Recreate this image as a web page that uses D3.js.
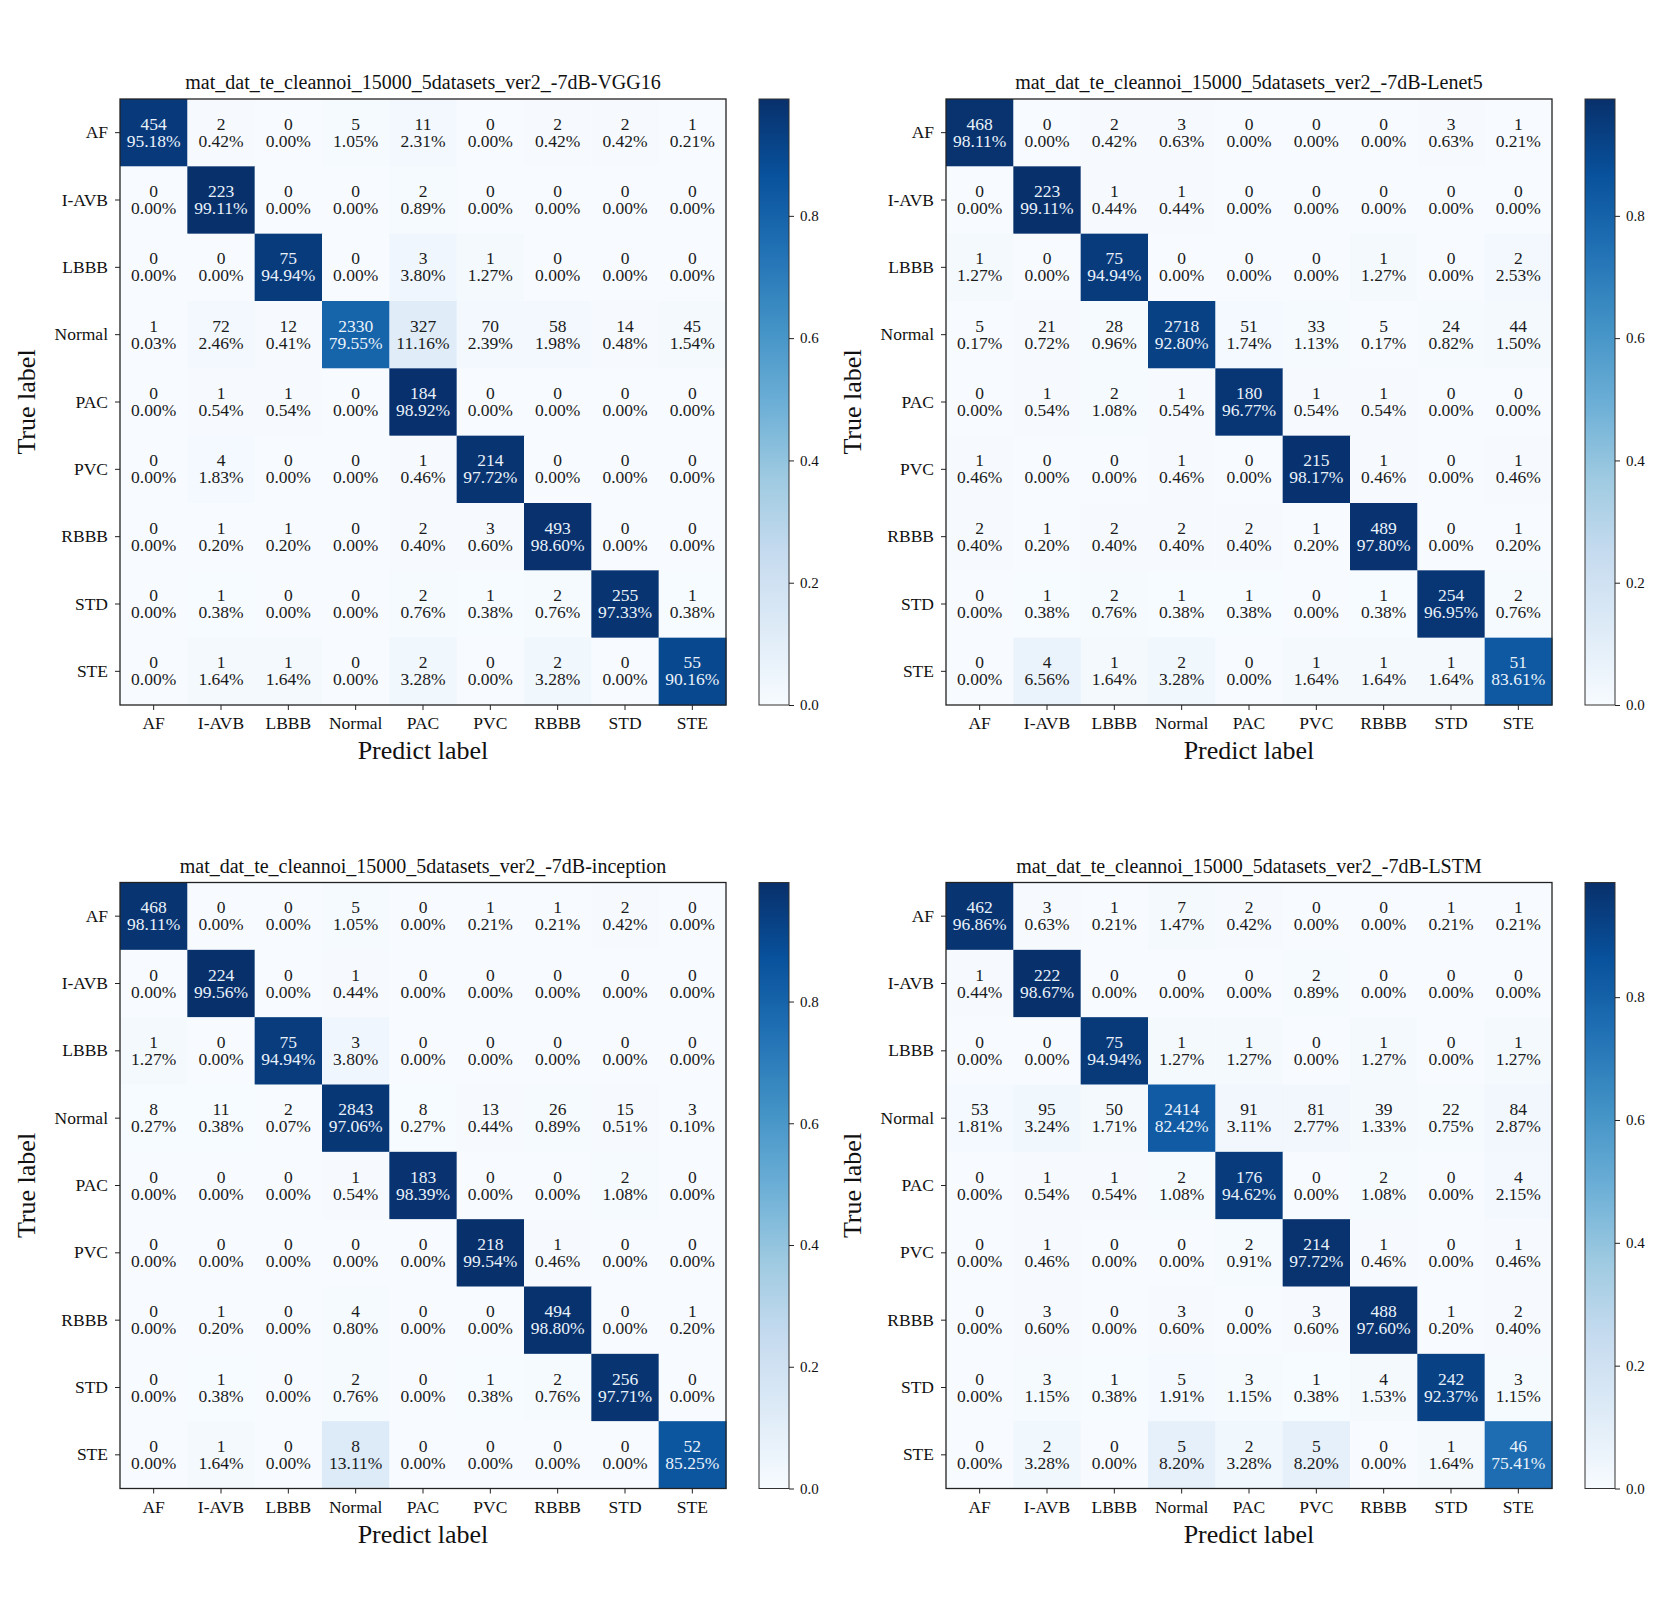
<!DOCTYPE html>
<html lang="en">
<head>
  <meta charset="UTF-8">
  <title>Confusion matrices -7dB</title>
  <style>
    body { margin: 0; background: #fff; }
    svg { display: block; font-family: "Liberation Serif", "Times New Roman", serif; }
    .title { font-size: 20px; fill: #111; }
    .axis-label { font-size: 26px; fill: #111; }
    .cell-text { font-size: 17.5px; }
    .tick text { font-size: 17.5px; fill: #111; font-family: "Liberation Serif", serif; }
    .cbar .tick text { font-size: 15px; }
    .tick line { stroke: #222; }
  </style>
</head>
<body>
<svg id="chart" width="1667" height="1624"></svg>

<script src="https://cdn.jsdelivr.net/npm/d3@7"></script>
<script>
  const classes = ["AF", "I-AVB", "LBBB", "Normal", "PAC", "PVC", "RBBB", "STD", "STE"];
  const colorbarTicks = [0, 0.2, 0.4, 0.6, 0.8];

  const titleVGG16 = "mat_dat_te_cleannoi_15000_5datasets_ver2_-7dB-VGG16";
  const titleLenet5 = "mat_dat_te_cleannoi_15000_5datasets_ver2_-7dB-Lenet5";
  const titleInception = "mat_dat_te_cleannoi_15000_5datasets_ver2_-7dB-inception";
  const titleLSTM = "mat_dat_te_cleannoi_15000_5datasets_ver2_-7dB-LSTM";

  // counts, rows = true label, cols = predicted label
  const vgg16 = [
    [454, 2, 0, 5, 11, 0, 2, 2, 1],
    [0, 223, 0, 0, 2, 0, 0, 0, 0],
    [0, 0, 75, 0, 3, 1, 0, 0, 0],
    [1, 72, 12, 2330, 327, 70, 58, 14, 45],
    [0, 1, 1, 0, 184, 0, 0, 0, 0],
    [0, 4, 0, 0, 1, 214, 0, 0, 0],
    [0, 1, 1, 0, 2, 3, 493, 0, 0],
    [0, 1, 0, 0, 2, 1, 2, 255, 1],
    [0, 1, 1, 0, 2, 0, 2, 0, 55]
  ];
  const lenet5 = [
    [468, 0, 2, 3, 0, 0, 0, 3, 1],
    [0, 223, 1, 1, 0, 0, 0, 0, 0],
    [1, 0, 75, 0, 0, 0, 1, 0, 2],
    [5, 21, 28, 2718, 51, 33, 5, 24, 44],
    [0, 1, 2, 1, 180, 1, 1, 0, 0],
    [1, 0, 0, 1, 0, 215, 1, 0, 1],
    [2, 1, 2, 2, 2, 1, 489, 0, 1],
    [0, 1, 2, 1, 1, 0, 1, 254, 2],
    [0, 4, 1, 2, 0, 1, 1, 1, 51]
  ];
  const inception = [
    [468, 0, 0, 5, 0, 1, 1, 2, 0],
    [0, 224, 0, 1, 0, 0, 0, 0, 0],
    [1, 0, 75, 3, 0, 0, 0, 0, 0],
    [8, 11, 2, 2843, 8, 13, 26, 15, 3],
    [0, 0, 0, 1, 183, 0, 0, 2, 0],
    [0, 0, 0, 0, 0, 218, 1, 0, 0],
    [0, 1, 0, 4, 0, 0, 494, 0, 1],
    [0, 1, 0, 2, 0, 1, 2, 256, 0],
    [0, 1, 0, 8, 0, 0, 0, 0, 52]
  ];
  const lstm = [
    [462, 3, 1, 7, 2, 0, 0, 1, 1],
    [1, 222, 0, 0, 0, 2, 0, 0, 0],
    [0, 0, 75, 1, 1, 0, 1, 0, 1],
    [53, 95, 50, 2414, 91, 81, 39, 22, 84],
    [0, 1, 1, 2, 176, 0, 2, 0, 4],
    [0, 1, 0, 0, 2, 214, 1, 0, 1],
    [0, 3, 0, 3, 0, 3, 488, 1, 2],
    [0, 3, 1, 5, 3, 1, 4, 242, 3],
    [0, 2, 0, 5, 2, 5, 0, 1, 46]
  ];

  const svg = d3.select("#chart");
  const defs = svg.append("defs");

  // panel geometry (shared by all four)
  const mLeft = 120, mTop = 99, mSize = 606;
  const cbX = 759, cbW = 30;

  const panels = [
    { title: titleVGG16, counts: vgg16, ox: 0, oy: 0 },
    { title: titleLenet5, counts: lenet5, ox: 826, oy: 0 },
    { title: titleInception, counts: inception, ox: 0, oy: 783.5 },
    { title: titleLSTM, counts: lstm, ox: 826, oy: 783.5 }
  ];

  panels.forEach((p, k) => drawPanel(p, k));

  function drawPanel(p, k) {
    const g = svg.append("g").attr("transform", `translate(${p.ox},${p.oy})`);

    const norm = p.counts.map(r => { const s = d3.sum(r); return r.map(v => v / s); });
    const vmax = d3.max(norm.flat());
    const color = d3.scaleLinear()
      .domain(d3.range(9).map(i => vmax * i / 8))
      .range(d3.schemeBlues[9]);

    const x = d3.scaleBand().domain(classes).range([mLeft, mLeft + mSize]);
    const y = d3.scaleBand().domain(classes).range([mTop, mTop + mSize]);

    const cells = [];
    p.counts.forEach((row, i) => row.forEach((v, j) => {
      cells.push({ t: classes[i], pr: classes[j], n: v, f: norm[i][j] });
    }));

    g.selectAll(".cell")
      .data(cells)
      .enter()
      .append("rect")
      .attr("class", "cell")
      .attr("x", d => x(d.pr))
      .attr("y", d => y(d.t))
      .attr("width", x.bandwidth() + 0.5)
      .attr("height", y.bandwidth() + 0.5)
      .attr("fill", d => color(d.f));

    const txt = g.selectAll(".cell-text")
      .data(cells)
      .enter()
      .append("text")
      .attr("class", "cell-text")
      .attr("text-anchor", "middle")
      .attr("fill", d => d.f > vmax / 2 ? "#eaf2fb" : "#1a1a1a");

    txt.append("tspan")
      .attr("x", d => x(d.pr) + x.bandwidth() / 2)
      .attr("y", d => y(d.t) + y.bandwidth() / 2 - 9)
      .attr("dy", "0.35em")
      .text(d => d.n);
    txt.append("tspan")
      .attr("x", d => x(d.pr) + x.bandwidth() / 2)
      .attr("y", d => y(d.t) + y.bandwidth() / 2 + 8)
      .attr("dy", "0.35em")
      .text(d => (d.f * 100).toFixed(2) + "%");

    // frame
    g.append("rect")
      .attr("x", mLeft).attr("y", mTop)
      .attr("width", mSize).attr("height", mSize)
      .attr("fill", "none").attr("stroke", "#222").attr("stroke-width", 1.3);

    // axes
    const ax = g.append("g")
      .attr("transform", `translate(0,${mTop + mSize})`)
      .call(d3.axisBottom(x).tickSize(5).tickPadding(7).tickSizeOuter(0));
    ax.select(".domain").remove();

    const ay = g.append("g")
      .attr("transform", `translate(${mLeft},0)`)
      .call(d3.axisLeft(y).tickSize(5).tickPadding(7).tickSizeOuter(0));
    ay.select(".domain").remove();

    g.append("text")
      .attr("class", "title")
      .attr("x", mLeft + mSize / 2).attr("y", 89)
      .attr("text-anchor", "middle")
      .text(p.title);

    g.append("text")
      .attr("class", "axis-label")
      .attr("x", mLeft + mSize / 2).attr("y", 759)
      .attr("text-anchor", "middle")
      .text("Predict label");

    g.append("text")
      .attr("class", "axis-label")
      .attr("transform", `translate(35,${mTop + mSize / 2}) rotate(-90)`)
      .attr("text-anchor", "middle")
      .text("True label");

    // colorbar
    const gradId = "cbar-grad-" + k;
    const grad = defs.append("linearGradient")
      .attr("id", gradId)
      .attr("x1", 0).attr("y1", 1).attr("x2", 0).attr("y2", 0);
    grad.selectAll("stop")
      .data(d3.range(9))
      .enter()
      .append("stop")
      .attr("offset", i => i / 8)
      .attr("stop-color", i => d3.schemeBlues[9][i]);

    const cb = d3.scaleLinear().domain([0, vmax]).range([mTop + mSize, mTop]);
    g.append("rect")
      .attr("x", cbX).attr("y", mTop)
      .attr("width", cbW).attr("height", mSize)
      .attr("fill", `url(#${gradId})`)
      .attr("stroke", "#333").attr("stroke-width", 1);

    const ac = g.append("g")
      .attr("class", "cbar")
      .attr("transform", `translate(${cbX + cbW},0)`)
      .call(d3.axisRight(cb).tickValues(colorbarTicks).tickFormat(d3.format(".1f"))
        .tickSize(5).tickPadding(6).tickSizeOuter(0));
    ac.select(".domain").remove();
  }
</script>
</body>
</html>
